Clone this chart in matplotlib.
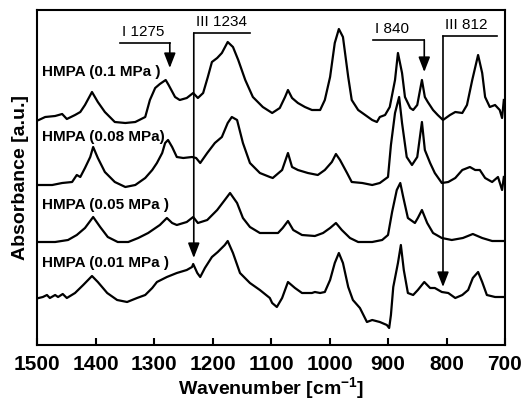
import matplotlib.pyplot as plt

plt.rcParams['font.family'] = ['Liberation Sans', 'DejaVu Sans']
plt.rcParams['mathtext.fontset'] = 'custom'
plt.rcParams['mathtext.rm'] = 'Liberation Sans'
plt.rcParams['mathtext.bf'] = 'Liberation Sans:bold'

# spectra, stacked with offsets already included (arbitrary units)
wn_01 = [1497, 1486, 1469, 1457, 1449, 1435, 1426, 1418, 1406, 1396,
         1384, 1367, 1349, 1332, 1315, 1307, 1298, 1290, 1280, 1275,
         1264, 1256, 1244, 1233, 1225, 1216, 1208, 1201, 1192, 1184,
         1174, 1165, 1156, 1144, 1131, 1114, 1098, 1085, 1076, 1071,
         1064, 1054, 1042, 1030, 1016, 1008, 999, 991, 984, 977,
         968, 962, 951, 939, 927, 919, 914, 905, 897, 888,
         883, 876, 871, 862, 857, 850, 842, 837, 832, 823,
         815, 806, 794, 785, 773, 765, 756, 746, 739, 734,
         726, 717, 709, 705, 702]
ab_01 = [225, 228, 229, 231, 226, 230, 233, 240, 253, 243,
         233, 223, 222, 223, 228, 245, 257, 261, 265, 260,
         248, 245, 247, 252, 247, 252, 268, 283, 287, 292,
         303, 298, 285, 265, 248, 238, 232, 237, 248, 255,
         247, 242, 238, 235, 235, 245, 268, 302, 316, 308,
         268, 245, 235, 230, 225, 223, 228, 230, 238, 265,
         292, 272, 248, 237, 235, 240, 265, 248, 243, 235,
         230, 225, 230, 233, 232, 240, 265, 290, 272, 248,
         238, 240, 235, 227, 245]

wn_008 = [1497, 1474, 1457, 1440, 1432, 1426, 1418, 1409, 1404, 1396,
          1384, 1367, 1349, 1332, 1315, 1303, 1295, 1286, 1281, 1276,
          1269, 1261, 1250, 1235, 1228, 1221, 1209, 1196, 1184, 1174,
          1167, 1158, 1148, 1136, 1119, 1102, 1097, 1081, 1071, 1064,
          1054, 1037, 1020, 1008, 996, 989, 982, 970, 962, 944,
          927, 914, 900, 895, 888, 881, 876, 868, 859, 850,
          842, 837, 828, 820, 808, 797, 785, 773, 760, 751,
          743, 734, 722, 712, 705, 702]
ab_008 = [160, 160, 162, 163, 170, 168, 177, 188, 198, 187,
          173, 163, 158, 160, 167, 175, 182, 192, 202, 205,
          198, 188, 187, 188, 187, 182, 192, 202, 208, 222,
          228, 225, 202, 182, 172, 168, 167, 175, 192, 178,
          175, 172, 170, 175, 183, 191, 185, 172, 163, 162,
          160, 162, 168, 200, 232, 248, 222, 188, 180, 188,
          223, 195, 182, 172, 162, 163, 167, 175, 178, 175,
          175, 167, 163, 168, 155, 168]

wn_005 = [1497, 1469, 1447, 1432, 1418, 1404, 1392, 1379, 1362, 1344,
          1327, 1310, 1290, 1278, 1269, 1261, 1244, 1233, 1225, 1209,
          1192, 1179, 1170, 1158, 1148, 1136, 1119, 1110, 1088, 1080,
          1071, 1062, 1047, 1025, 1011, 999, 989, 979, 965, 951,
          927, 910, 900, 893, 885, 879, 874, 866, 854, 849,
          842, 833, 823, 808, 791, 772, 755, 739, 722, 702]
ab_005 = [103, 103, 105, 110, 117, 128, 118, 108, 103, 103,
          107, 112, 120, 127, 122, 120, 123, 128, 122, 125,
          135, 145, 152, 142, 127, 118, 112, 112, 112, 117,
          124, 115, 110, 109, 112, 117, 122, 115, 107, 103,
          103, 105, 110, 133, 155, 162, 148, 127, 122, 127,
          135, 122, 112, 107, 105, 107, 111, 107, 104, 104]

wn_001 = [1497, 1490, 1483, 1478, 1469, 1464, 1456, 1449, 1435, 1421,
          1406, 1396, 1380, 1363, 1346, 1329, 1315, 1303, 1295, 1278,
          1261, 1244, 1235, 1233, 1226, 1221, 1213, 1201, 1191, 1179,
          1174, 1165, 1153, 1136, 1119, 1102, 1098, 1090, 1081, 1071,
          1059, 1047, 1030, 1025, 1016, 1008, 999, 991, 984, 977,
          968, 960, 948, 936, 927, 914, 902, 898, 895, 891,
          883, 878, 873, 866, 857, 849, 838, 828, 820, 808,
          797, 785, 773, 763, 755, 746, 739, 731, 717, 702]
ab_001 = [47, 48, 50, 47, 50, 48, 51, 47, 52, 60,
          69, 63, 52, 45, 43, 47, 50, 57, 63, 68,
          72, 75, 78, 81, 72, 68, 77, 88, 93, 100,
          104, 92, 72, 62, 55, 47, 42, 38, 47, 63,
          57, 52, 52, 53, 52, 53, 65, 82, 92, 82,
          58, 45, 37, 23, 25, 23, 20, 17, 30, 58,
          82, 100, 75, 52, 50, 55, 63, 57, 57, 53,
          52, 47, 50, 55, 67, 73, 63, 50, 48, 48]

labels = ['HMPA (0.1 MPa )', 'HMPA (0.08 MPa)', 'HMPA (0.05 MPa )', 'HMPA (0.01 MPa )']
label_y = [273, 208, 140, 82]

# band markers: text, arrow position, bracket end, bracket height, arrow tip
bands = ['I 1275', 'III 1234', 'I 840', 'III 812']
band_pos = [1273, 1232, 838, 806]
band_end = [1358, 1136, 926, 714]
band_top = [302, 312, 305, 309]
band_tip = [277, 87, 273, 58]

fig = plt.figure(figsize=(5.24, 4.04), dpi=100)
ax = fig.add_axes([37/524, 59/404, 468/524, 335/404])

for wn, ab in [(wn_01, ab_01), (wn_008, ab_008), (wn_005, ab_005), (wn_001, ab_001)]:
    ax.plot(wn, ab, color='black', lw=1.6, solid_joinstyle='round')

for txt, y in zip(labels, label_y):
    ax.text(1491, y, txt, fontsize=11, fontweight='bold', va='center', ha='left')

for txt, x, xe, yt, tip in zip(bands, band_pos, band_end, band_top, band_tip):
    ax.plot([x, xe], [yt, yt], color='black', lw=1.2)
    ax.annotate('', xy=(x, tip), xytext=(x, yt),
                arrowprops=dict(arrowstyle='-|>,head_length=0.9,head_width=0.35',
                                color='black', lw=1.2, shrinkA=0, shrinkB=0))
    # text sits over the left end of the bracket (axis runs high to low)
    ax.text(max(x, xe) - 4, yt + 4, txt, fontsize=11, ha='left', va='bottom')

ax.set_xlim(1500, 700)
ax.set_ylim(0, 335)
ax.set_yticks([])
ax.set_xticks(range(1500, 699, -100))
ax.tick_params(axis='x', direction='in', length=5, width=1.5, labelsize=15, pad=7)
for lbl in ax.get_xticklabels():
    lbl.set_fontweight('bold')
for s in ax.spines.values():
    s.set_linewidth(1.5)

ax.set_xlabel(r'Wavenumber [cm$^{\mathbf{-1}}$]', fontsize=14, fontweight='bold', labelpad=1)
ax.set_ylabel('Absorbance [a.u.]', fontsize=14, fontweight='bold', labelpad=6)

fig.savefig('out.png', dpi=100)
